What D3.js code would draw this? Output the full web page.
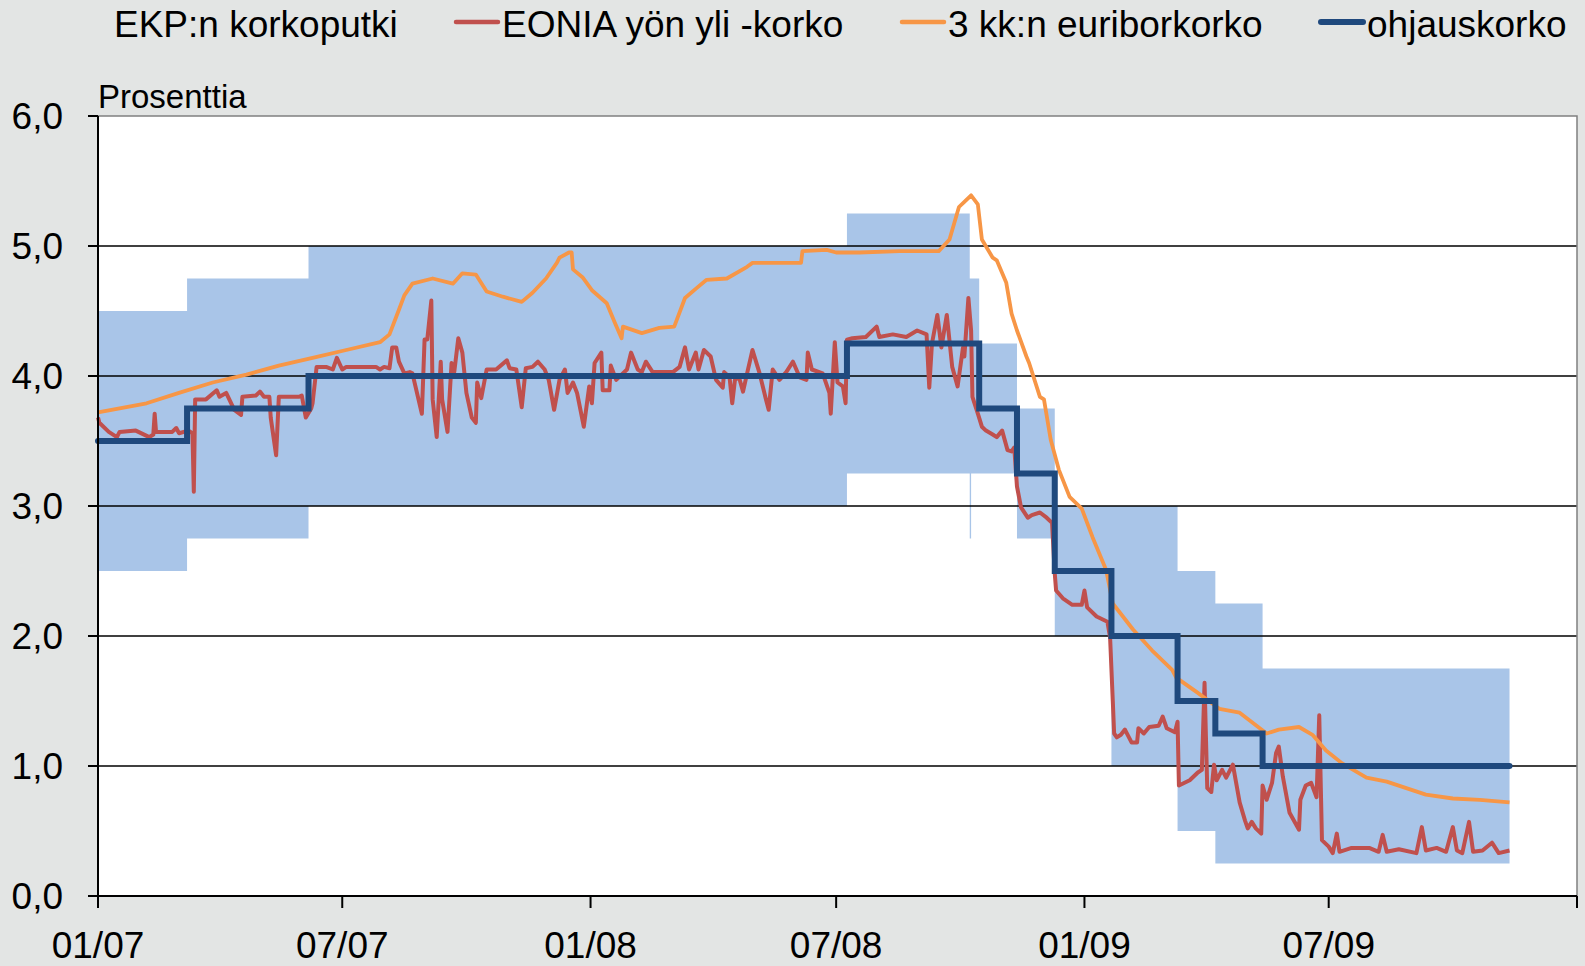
<!DOCTYPE html>
<html>
  <head>
    <meta charset="utf-8" />
    <title>EKP:n korkoputki</title>
    <script src="https://cdnjs.cloudflare.com/ajax/libs/d3/7.8.5/d3.min.js"></script>
    <style>
      body {
        margin: 0;
        background: #e3e5e4;
        font-family: "Liberation Sans", Arial, Helvetica, sans-serif;
      }
      .grid line {
        stroke: #000;
        stroke-width: 1.5px;
      }
      .axis line,
      .axis path {
        stroke: #000;
        stroke-width: 2px;
      }
      .tick-label {
        font-size: 37px;
        fill: #000;
      }
    </style>
  </head>
  <body>
    <svg id="chart" width="1585" height="966"></svg>
    <script>
      // ECB corridor: date, deposit rate (lower), marginal lending rate (upper)
      const corridor = [
        ["2007-01-01", 2.5, 4.5],
        ["2007-03-08", 2.75, 4.75],
        ["2007-06-06", 3.0, 5.0],
        ["2008-07-09", 3.25, 5.25],
        ["2008-10-08", 2.75, 4.75],
        ["2008-10-09", 3.25, 4.75],
        ["2008-10-15", 3.25, 4.25],
        ["2008-11-12", 2.75, 3.75],
        ["2008-12-10", 2.0, 3.0],
        ["2009-01-21", 1.0, 3.0],
        ["2009-03-11", 0.5, 2.5],
        ["2009-04-08", 0.25, 2.25],
        ["2009-05-13", 0.25, 1.75],
        ["2009-11-12", 0.25, 1.75],
      ];

      // ohjauskorko (main refinancing rate)
      const policyRate = [
        ["2007-01-01", 3.5],
        ["2007-03-08", 3.75],
        ["2007-06-06", 4.0],
        ["2008-07-09", 4.25],
        ["2008-10-15", 3.75],
        ["2008-11-12", 3.25],
        ["2008-12-10", 2.5],
        ["2009-01-21", 2.0],
        ["2009-03-11", 1.5],
        ["2009-04-08", 1.25],
        ["2009-05-13", 1.0],
        ["2009-11-12", 1.0],
      ];

      // 3 kk:n euribor
      const euribor = [
        ["2007-01-01", 3.72], ["2007-02-06", 3.79], ["2007-03-02", 3.87],
        ["2007-03-27", 3.95], ["2007-04-21", 4.01], ["2007-05-15", 4.08],
        ["2007-06-09", 4.14], ["2007-07-04", 4.2], ["2007-07-29", 4.26],
        ["2007-08-05", 4.32], ["2007-08-12", 4.51], ["2007-08-16", 4.62],
        ["2007-08-22", 4.71], ["2007-09-06", 4.75], ["2007-09-21", 4.71],
        ["2007-09-28", 4.79], ["2007-10-08", 4.78], ["2007-10-16", 4.65],
        ["2007-10-28", 4.61], ["2007-11-11", 4.57], ["2007-11-19", 4.64],
        ["2007-11-29", 4.75], ["2007-12-07", 4.87], ["2007-12-09", 4.91],
        ["2007-12-16", 4.95], ["2007-12-18", 4.95], ["2007-12-19", 4.82],
        ["2007-12-26", 4.76], ["2008-01-02", 4.66], ["2008-01-13", 4.56],
        ["2008-01-19", 4.41], ["2008-01-24", 4.29], ["2008-01-25", 4.38],
        ["2008-02-08", 4.33], ["2008-02-21", 4.37], ["2008-03-03", 4.38],
        ["2008-03-11", 4.6], ["2008-03-20", 4.68], ["2008-03-27", 4.74],
        ["2008-04-11", 4.75], ["2008-04-26", 4.84], ["2008-04-30", 4.87],
        ["2008-06-05", 4.87], ["2008-06-06", 4.96], ["2008-06-24", 4.97],
        ["2008-07-01", 4.95], ["2008-07-18", 4.95], ["2008-08-17", 4.96],
        ["2008-09-15", 4.96], ["2008-09-23", 5.05], ["2008-09-30", 5.3],
        ["2008-10-04", 5.34], ["2008-10-09", 5.39], ["2008-10-14", 5.32],
        ["2008-10-17", 5.05], ["2008-10-25", 4.91], ["2008-10-28", 4.89],
        ["2008-11-04", 4.72], ["2008-11-08", 4.48], ["2008-11-12", 4.35],
        ["2008-11-19", 4.15], ["2008-11-21", 4.1], ["2008-11-29", 3.84],
        ["2008-12-02", 3.82], ["2008-12-07", 3.51], ["2008-12-13", 3.28],
        ["2008-12-21", 3.07], ["2008-12-30", 2.98], ["2009-01-07", 2.76],
        ["2009-01-17", 2.51], ["2009-01-22", 2.25], ["2009-02-06", 2.05],
        ["2009-02-20", 1.89], ["2009-03-07", 1.74], ["2009-03-10", 1.68],
        ["2009-03-25", 1.57], ["2009-04-11", 1.44], ["2009-04-26", 1.41],
        ["2009-05-16", 1.25], ["2009-05-25", 1.28], ["2009-06-09", 1.3],
        ["2009-06-19", 1.24], ["2009-06-29", 1.12], ["2009-07-11", 1.02],
        ["2009-07-29", 0.91], ["2009-08-13", 0.88], ["2009-09-11", 0.78],
        ["2009-10-01", 0.75], ["2009-10-21", 0.74], ["2009-11-12", 0.72],
      ];

      // EONIA yön yli -korko
      const eonia = [
        ["2007-01-01", 3.68], ["2007-01-02", 3.64], ["2007-01-09", 3.57],
        ["2007-01-15", 3.53], ["2007-01-17", 3.57], ["2007-01-29", 3.58],
        ["2007-02-08", 3.53], ["2007-02-11", 3.55], ["2007-02-12", 3.71],
        ["2007-02-13", 3.57], ["2007-02-25", 3.57], ["2007-02-28", 3.6],
        ["2007-03-02", 3.56], ["2007-03-09", 3.58], ["2007-03-12", 3.56],
        ["2007-03-13", 3.11], ["2007-03-14", 3.82], ["2007-03-22", 3.82],
        ["2007-03-30", 3.89], ["2007-04-01", 3.84], ["2007-04-06", 3.87],
        ["2007-04-12", 3.74], ["2007-04-17", 3.7], ["2007-04-18", 3.84],
        ["2007-04-28", 3.85], ["2007-05-01", 3.88], ["2007-05-04", 3.84],
        ["2007-05-08", 3.84], ["2007-05-09", 3.68], ["2007-05-13", 3.39],
        ["2007-05-15", 3.84], ["2007-05-30", 3.84], ["2007-06-01", 3.85],
        ["2007-06-04", 3.68], ["2007-06-08", 3.75], ["2007-06-09", 3.79],
        ["2007-06-12", 4.07], ["2007-06-19", 4.07], ["2007-06-24", 4.05],
        ["2007-06-27", 4.14], ["2007-07-01", 4.05], ["2007-07-04", 4.07],
        ["2007-07-26", 4.07], ["2007-07-29", 4.05], ["2007-08-01", 4.07],
        ["2007-08-05", 4.06], ["2007-08-07", 4.22], ["2007-08-10", 4.22],
        ["2007-08-12", 4.11], ["2007-08-16", 4.02], ["2007-08-20", 4.03],
        ["2007-08-22", 4.02], ["2007-08-29", 3.71], ["2007-08-31", 4.28],
        ["2007-09-02", 4.28], ["2007-09-05", 4.58], ["2007-09-06", 3.82],
        ["2007-09-09", 3.53], ["2007-09-12", 4.11], ["2007-09-13", 3.82],
        ["2007-09-17", 3.57], ["2007-09-20", 4.1], ["2007-09-22", 4.03],
        ["2007-09-25", 4.29], ["2007-09-28", 4.18], ["2007-10-01", 3.87],
        ["2007-10-05", 3.68], ["2007-10-08", 3.64], ["2007-10-09", 3.95],
        ["2007-10-12", 3.83], ["2007-10-16", 4.05], ["2007-10-23", 4.05],
        ["2007-10-31", 4.12], ["2007-11-02", 4.06], ["2007-11-07", 4.05],
        ["2007-11-11", 3.76], ["2007-11-14", 4.06], ["2007-11-19", 4.07],
        ["2007-11-23", 4.11], ["2007-11-28", 4.05], ["2007-12-01", 3.97],
        ["2007-12-05", 3.74], ["2007-12-09", 3.97], ["2007-12-13", 4.05],
        ["2007-12-15", 3.87], ["2007-12-19", 3.95], ["2007-12-22", 3.87],
        ["2007-12-27", 3.61], ["2007-12-31", 3.92], ["2008-01-02", 3.79],
        ["2008-01-04", 4.1], ["2008-01-09", 4.18], ["2008-01-10", 3.89],
        ["2008-01-15", 3.89], ["2008-01-16", 4.08], ["2008-01-20", 3.97],
        ["2008-01-28", 4.05], ["2008-01-31", 4.18], ["2008-02-05", 4.05],
        ["2008-02-08", 4.03], ["2008-02-11", 4.11], ["2008-02-16", 4.03],
        ["2008-03-02", 4.03], ["2008-03-07", 4.07], ["2008-03-11", 4.22],
        ["2008-03-14", 4.05], ["2008-03-19", 4.18], ["2008-03-21", 4.05],
        ["2008-03-25", 4.2], ["2008-03-30", 4.15], ["2008-04-03", 3.97],
        ["2008-04-08", 3.91], ["2008-04-09", 4.03], ["2008-04-13", 3.99],
        ["2008-04-15", 3.79], ["2008-04-17", 3.97], ["2008-04-20", 3.99],
        ["2008-04-23", 3.88], ["2008-04-26", 4.02], ["2008-04-30", 4.2],
        ["2008-05-05", 4.03], ["2008-05-10", 3.82], ["2008-05-12", 3.74],
        ["2008-05-15", 4.05], ["2008-05-20", 3.97], ["2008-05-25", 4.03],
        ["2008-05-30", 4.11], ["2008-06-04", 3.99], ["2008-06-09", 3.97],
        ["2008-06-10", 4.18], ["2008-06-13", 4.05], ["2008-06-21", 4.02],
        ["2008-06-26", 3.87], ["2008-06-27", 3.71], ["2008-06-30", 4.26],
        ["2008-07-02", 3.95], ["2008-07-06", 3.92], ["2008-07-08", 3.79],
        ["2008-07-09", 4.28], ["2008-07-13", 4.29], ["2008-07-23", 4.3],
        ["2008-07-31", 4.38], ["2008-08-02", 4.3], ["2008-08-12", 4.32],
        ["2008-08-22", 4.3], ["2008-08-30", 4.35], ["2008-09-06", 4.32],
        ["2008-09-08", 3.91], ["2008-09-10", 4.25], ["2008-09-14", 4.47],
        ["2008-09-17", 4.22], ["2008-09-21", 4.47], ["2008-09-25", 4.07],
        ["2008-09-29", 3.92], ["2008-10-03", 4.22], ["2008-10-04", 4.15],
        ["2008-10-07", 4.6], ["2008-10-09", 4.35], ["2008-10-10", 3.84],
        ["2008-10-14", 3.71], ["2008-10-17", 3.61], ["2008-10-20", 3.58],
        ["2008-10-25", 3.55], ["2008-10-28", 3.53], ["2008-11-01", 3.58],
        ["2008-11-05", 3.43], ["2008-11-08", 3.42], ["2008-11-10", 3.45],
        ["2008-11-12", 3.15], ["2008-11-15", 2.99], ["2008-11-20", 2.91],
        ["2008-11-23", 2.93], ["2008-11-29", 2.95], ["2008-12-04", 2.91],
        ["2008-12-08", 2.87], ["2008-12-10", 2.48], ["2008-12-11", 2.35],
        ["2008-12-16", 2.29], ["2008-12-23", 2.24], ["2008-12-30", 2.24],
        ["2009-01-01", 2.35], ["2009-01-03", 2.22], ["2009-01-10", 2.15],
        ["2009-01-18", 2.11], ["2009-01-20", 1.99], ["2009-01-22", 1.5],
        ["2009-01-23", 1.25], ["2009-01-25", 1.22], ["2009-01-28", 1.24],
        ["2009-01-31", 1.28], ["2009-02-05", 1.18], ["2009-02-09", 1.18],
        ["2009-02-10", 1.29], ["2009-02-14", 1.25], ["2009-02-18", 1.3],
        ["2009-02-25", 1.31], ["2009-02-28", 1.38], ["2009-03-03", 1.29],
        ["2009-03-09", 1.26], ["2009-03-11", 1.34], ["2009-03-12", 0.85],
        ["2009-03-20", 0.89], ["2009-03-26", 0.95], ["2009-03-29", 0.97],
        ["2009-03-31", 1.64], ["2009-04-02", 0.83], ["2009-04-05", 0.8],
        ["2009-04-07", 1.01], ["2009-04-09", 0.89], ["2009-04-13", 0.97],
        ["2009-04-16", 0.91], ["2009-04-21", 1.01], ["2009-04-26", 0.72],
        ["2009-04-30", 0.58], ["2009-05-02", 0.52], ["2009-05-05", 0.57],
        ["2009-05-08", 0.52], ["2009-05-12", 0.48], ["2009-05-13", 0.85],
        ["2009-05-16", 0.74], ["2009-05-20", 0.87], ["2009-05-23", 1.1],
        ["2009-05-25", 1.15], ["2009-05-28", 0.92], ["2009-06-02", 0.64],
        ["2009-06-09", 0.51], ["2009-06-10", 0.74], ["2009-06-14", 0.85],
        ["2009-06-18", 0.87], ["2009-06-22", 0.76], ["2009-06-24", 1.39],
        ["2009-06-26", 0.43], ["2009-07-01", 0.38], ["2009-07-04", 0.33],
        ["2009-07-07", 0.48], ["2009-07-09", 0.34], ["2009-07-18", 0.37],
        ["2009-07-31", 0.37], ["2009-08-07", 0.34], ["2009-08-10", 0.47],
        ["2009-08-13", 0.34], ["2009-08-22", 0.36], ["2009-09-04", 0.33],
        ["2009-09-08", 0.53], ["2009-09-11", 0.35], ["2009-09-19", 0.37],
        ["2009-09-26", 0.34], ["2009-10-01", 0.53], ["2009-10-04", 0.35],
        ["2009-10-08", 0.33], ["2009-10-13", 0.57], ["2009-10-16", 0.34],
        ["2009-10-23", 0.35], ["2009-10-30", 0.41], ["2009-11-04", 0.33],
        ["2009-11-12", 0.35],
      ];

      const yTicks = [0, 1, 2, 3, 4, 5, 6];
      const xTickDates = ["2007-01-01", "2007-07-01", "2008-01-01", "2008-07-01", "2009-01-01", "2009-07-01", "2010-01-01"];
      const xTickLabels = ["01/07", "07/07", "01/08", "07/08", "01/09", "07/09", ""];
      const legendLabels = ["EKP:n korkoputki", "EONIA yön yli -korko", "3 kk:n euriborkorko", "ohjauskorko"];

      const parse = d3.utcParse("%Y-%m-%d");
      const fi = d3.formatLocale({ decimal: ",", thousands: " ", grouping: [3], currency: ["", " €"] });
      const fmt = fi.format(".1f");

      const svg = d3.select("#chart");
      const plotLeft = 98, plotRight = 1577, plotTop = 116, plotBottom = 896;

      const x = d3.scaleUtc()
        .domain([parse("2007-01-01"), parse("2010-01-01")])
        .range([plotLeft, plotRight]);
      const y = d3.scaleLinear().domain([0, 6]).range([plotBottom, plotTop]);

      // plot area
      svg.append("rect")
        .attr("x", plotLeft).attr("y", plotTop)
        .attr("width", plotRight - plotLeft).attr("height", plotBottom - plotTop)
        .attr("fill", "#fff");

      // corridor band
      const area = d3.area()
        .x((d) => x(parse(d[0])))
        .y0((d) => y(d[1]))
        .y1((d) => y(d[2]))
        .curve(d3.curveStepAfter);
      svg.append("path")
        .datum(corridor)
        .attr("d", area)
        .attr("fill", "#a9c5e8");

      // grid lines
      svg.append("g")
        .attr("class", "grid")
        .selectAll("line")
        .data(yTicks.filter((t) => t > 0 && t < 6))
        .join("line")
        .attr("x1", plotLeft).attr("x2", plotRight)
        .attr("y1", (d) => y(d)).attr("y2", (d) => y(d));

      // top and right border
      svg.append("path")
        .attr("d", `M${plotLeft},${plotTop}H${plotRight}V${plotBottom}`)
        .attr("fill", "none")
        .attr("stroke", "#808080")
        .attr("stroke-width", 1.5);

      // lines
      const line = (curve) => d3.line()
        .x((d) => x(parse(d[0])))
        .y((d) => y(d[1]))
        .curve(curve);

      svg.append("path")
        .datum(eonia)
        .attr("d", line(d3.curveLinear))
        .attr("fill", "none")
        .attr("stroke", "#c0504d")
        .attr("stroke-width", 4)
        .attr("stroke-linejoin", "round");

      svg.append("path")
        .datum(euribor)
        .attr("d", line(d3.curveLinear))
        .attr("fill", "none")
        .attr("stroke", "#f79646")
        .attr("stroke-width", 3.8)
        .attr("stroke-linejoin", "round");

      svg.append("path")
        .datum(policyRate)
        .attr("d", line(d3.curveStepAfter))
        .attr("fill", "none")
        .attr("stroke", "#1f497d")
        .attr("stroke-width", 6)
        .attr("stroke-linecap", "round");

      // y axis
      const yAxis = svg.append("g").attr("class", "axis");
      yAxis.append("line")
        .attr("x1", plotLeft).attr("x2", plotLeft)
        .attr("y1", plotTop).attr("y2", plotBottom);
      yAxis.selectAll(".yt")
        .data(yTicks)
        .join("line")
        .attr("class", "yt")
        .attr("x1", plotLeft - 10).attr("x2", plotLeft)
        .attr("y1", (d) => y(d)).attr("y2", (d) => y(d));
      yAxis.selectAll("text")
        .data(yTicks)
        .join("text")
        .attr("class", "tick-label")
        .attr("x", 63)
        .attr("y", (d) => y(d))
        .attr("dy", "0.35em")
        .attr("text-anchor", "end")
        .text((d) => fmt(d));

      // x axis
      const xAxis = svg.append("g").attr("class", "axis");
      xAxis.append("line")
        .attr("x1", plotLeft).attr("x2", plotRight)
        .attr("y1", plotBottom).attr("y2", plotBottom);
      xAxis.selectAll(".xt")
        .data(xTickDates)
        .join("line")
        .attr("class", "xt")
        .attr("x1", (d) => x(parse(d))).attr("x2", (d) => x(parse(d)))
        .attr("y1", plotBottom).attr("y2", plotBottom + 12);
      xAxis.selectAll("text")
        .data(xTickDates)
        .join("text")
        .attr("class", "tick-label")
        .attr("x", (d) => x(parse(d)))
        .attr("y", 958)
        .attr("text-anchor", "middle")
        .text((d, i) => xTickLabels[i]);

      svg.append("text")
        .attr("x", plotLeft)
        .attr("y", 108)
        .attr("font-size", 33)
        .text("Prosenttia");

      // legend
      const legendColors = [null, "#c0504d", "#f79646", "#1f497d"];
      const legendTextX = [114, 502, 948, 1367];
      const legend = svg.append("g");
      legendLabels.forEach((label, i) => {
        const tx = legendTextX[i];
        if (legendColors[i]) {
          legend.append("line")
            .attr("x1", tx - 46).attr("x2", tx - 4)
            .attr("y1", 22).attr("y2", 22)
            .attr("stroke", legendColors[i])
            .attr("stroke-width", i === 3 ? 6 : 4.5)
            .attr("stroke-linecap", "round");
        }
        legend.append("text")
          .attr("x", tx)
          .attr("y", 37)
          .attr("font-size", 37)
          .text(label);
      });
    </script>
  </body>
</html>
